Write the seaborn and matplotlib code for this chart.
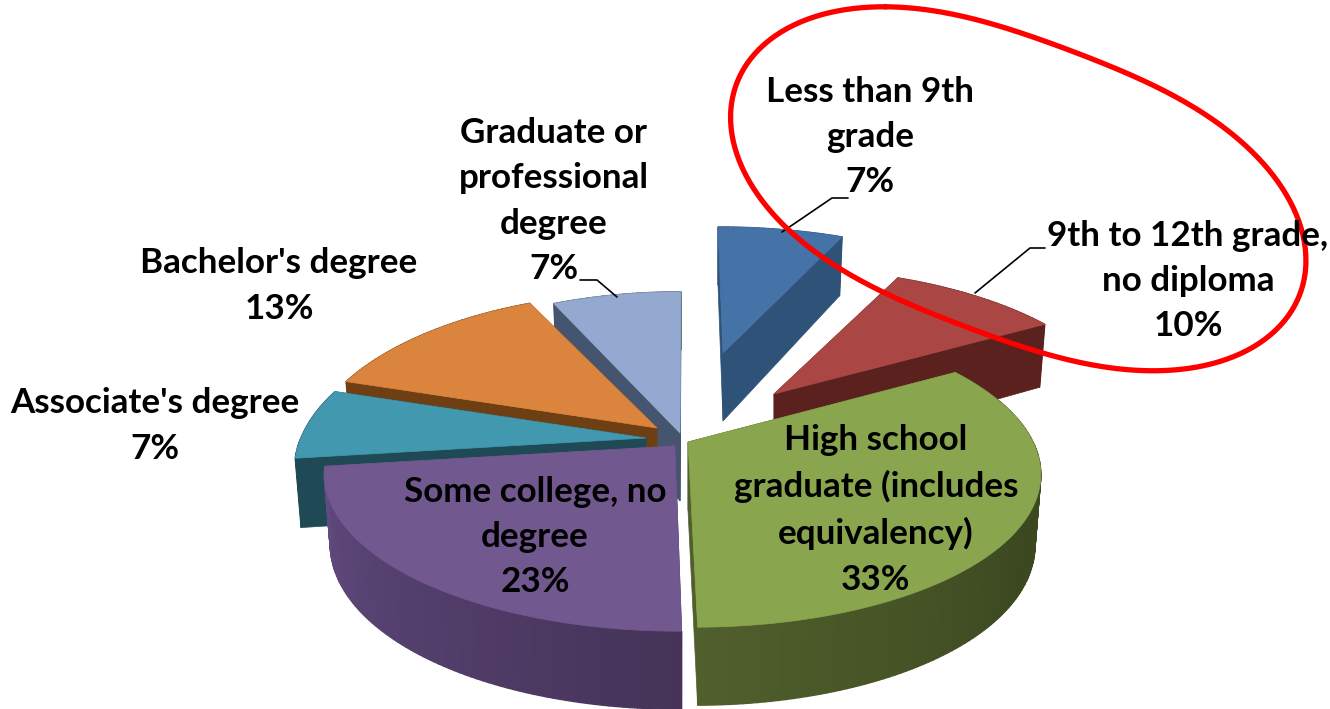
import numpy as np
import matplotlib
matplotlib.use("Agg")
import matplotlib.pyplot as plt
import seaborn as sns

# ---- data -------------------------------------------------------------
CATEGORIES = ["Less than 9th\ngrade", "9th to 12th grade,\nno diploma",
              "High school\ngraduate (includes\nequivalency)",
              "Some college, no\ndegree", "Associate's degree",
              "Bachelor's degree", "Graduate or\nprofessional\ndegree"]
SHARES = [6.9, 9.6, 33.4, 23.0, 7.0, 13.0, 7.1]

# ---- style ------------------------------------------------------------
TOP_COLORS = ["#4572a7", "#aa4643", "#89a54e", "#71588f", "#4198af", "#db843d", "#93a9cf"]
SIDE_START = ["#2f5279", "#5a211f", "#3c4820", "#463358", "#1f4a55", "#6e3f12", "#46556f"]
SIDE_MID = ["#2f5279", "#5a211f", "#3c4820", "#533f6c", "#1f4a55", "#6e3f12", "#46556f"]
SIDE_END = ["#2f5279", "#5a211f", "#505f2c", "#614b80", "#1f4a55", "#6e3f12", "#46556f"]
APEX_X = [723, 774, 688, 675, 646, 657, 680]
APEX_Y = [353, 394, 442, 446, 438, 428, 433]
Y_SCALE = [1.0, 1.0, 1.0, 1.0, 1.08, 1.08, 1.12]
SKEW = [5, 0, 7, 4, 0, 0, -1]
LABEL_X = [870, 1188, 876, 535, 155, 279, 554]
LABEL_Y = [137, 281, 510, 537, 426, 286, 201]
DRAW_ORDER = [0, 6, 5, 4, 1, 2, 3]
LEADER_X = [[782, 832, 848], [975, 1030, 1045], [617, 597, 580]]
LEADER_Y = [[232, 198, 198], [293, 248, 248], [297, 280, 280]]
RING_X = [886, 943, 1020, 1085, 1150, 1220, 1270, 1303, 1310, 1300, 1267, 1220, 1153,
          1087, 1020, 980, 873, 843, 790, 763, 733, 726, 743, 777, 827]
RING_Y = [11, 15, 30, 52, 85, 130, 177, 227, 263, 307, 340, 360, 367,
          362, 348, 333, 290, 268, 225, 200, 143, 107, 60, 33, 15]

RX, RY, PERSP = 345.0, 150.0, 0.19

sns.set_theme(style="white")
plt.rcParams["font.family"] = ["Lato", "DejaVu Sans"]

fig = plt.figure(figsize=(13.3, 7.09), dpi=100)
ax = fig.add_axes([0, 0, 1, 1])
ax.set_xlim(0, 1330)
ax.set_ylim(709, 0)
ax.axis("off")


def rim(theta_deg, ax0, ay0, yscale, skew):
    t = np.radians(theta_deg)
    x, y = np.sin(t), np.cos(t)
    s = 1 / (1 + PERSP * y)
    sy = RY * y * s * np.where(y > 0, yscale, 1.0)
    return ax0 + RX * x * s - skew * y, ay0 - sy, x, y


def drop(px, py, wx, wy):
    return px - 6 * wx, py + 68 - 10 * wy


edges = np.concatenate([[0], np.cumsum(SHARES)]) * 3.6
for order, i in enumerate(DRAW_ORDER):
    a0, a1 = edges[i], edges[i + 1]
    thetas = np.arange(a0, a1 + 0.01, 1.0)
    thetas[-1] = a1
    ax0, ay0, ys = APEX_X[i], APEX_Y[i], Y_SCALE[i]
    px, py, wx, wy = rim(thetas, ax0, ay0, ys, SKEW[i])
    bx, by = drop(px, py, wx, wy)
    ax_b, ay_b = drop(ax0, ay0, 0, 0)
    shades = sns.blend_palette([SIDE_START[i], SIDE_MID[i], SIDE_END[i]], len(thetas))
    z = 10 + order
    # radial faces
    for k in (0, -1):
        ax.fill([ax0, px[k], bx[k], ax_b], [ay0, py[k], by[k], ay_b],
                color=shades[k], lw=0.5, zorder=z)
    # outer wall
    for k in range(len(thetas) - 1):
        ax.fill([px[k], px[k + 1], bx[k + 1], bx[k]],
                [py[k], py[k + 1], by[k + 1], by[k]],
                color=shades[k], lw=1.0, zorder=z)
    # top face
    ax.fill(np.r_[ax0, px], np.r_[ay0, py], color=TOP_COLORS[i], lw=0.5, zorder=z + 0.5)

for lx, ly in zip(LEADER_X, LEADER_Y):
    ax.plot(lx, ly, color="black", lw=1.2, zorder=30)

# hand-drawn red ring: smooth low-order closed curve fitted to the read outline
rx, ry = np.array(RING_X, float), np.array(RING_Y, float)
chord = np.hypot(np.diff(np.r_[rx, rx[0]]), np.diff(np.r_[ry, ry[0]]))
u = np.r_[0, np.cumsum(chord)[:-1]] / chord.sum() * 2 * np.pi


def basis(v, order=3):
    cols = [np.ones_like(v)]
    for h in range(1, order + 1):
        cols += [np.cos(h * v), np.sin(h * v)]
    return np.column_stack(cols)


cx = np.linalg.lstsq(basis(u), rx, rcond=None)[0]
cy = np.linalg.lstsq(basis(u), ry, rcond=None)[0]
vv = np.linspace(0, 2 * np.pi, 400)
ax.plot(basis(vv) @ cx, basis(vv) @ cy, color="#ff0000", lw=3.8, zorder=40)

for name, share, lx, ly in zip(CATEGORIES, SHARES, LABEL_X, LABEL_Y):
    ax.text(lx, ly, f"{name}\n{share:.0f}%", ha="center", va="center", multialignment="center",
            fontsize=25.2, fontweight="bold", color="black", linespacing=1.51, zorder=50)

fig.savefig("out.png", dpi=100)
